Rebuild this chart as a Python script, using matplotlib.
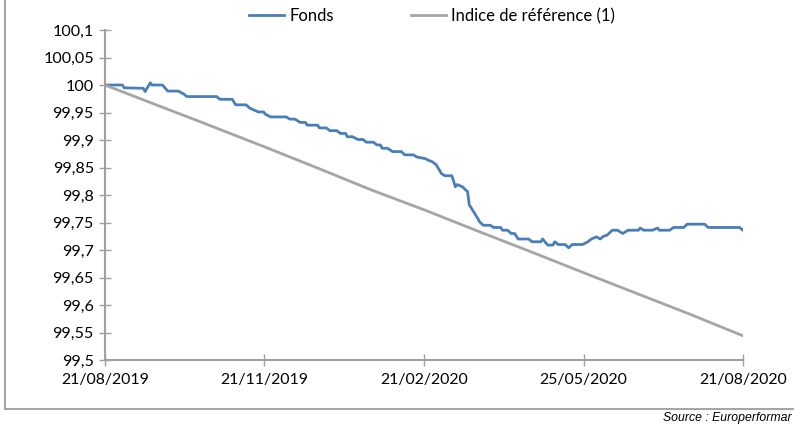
import matplotlib
matplotlib.use('Agg')
import matplotlib.pyplot as plt
import matplotlib.dates as mdates
import numpy as np
import pandas as pd
from matplotlib.lines import Line2D

# data (days since 21/08/2019, value)
start = pd.Timestamp('2019-08-21')

fonds_days = [0, 10, 11, 22, 23, 26, 27, 33, 36, 42, 45, 47, 64, 66, 73, 75, 81, 83,
              88, 91, 92, 95, 104, 106, 109, 112, 115, 116, 122, 123, 127, 129, 133,
              135, 138, 139, 142, 145, 148, 150, 154, 156, 158, 159, 162, 165, 170,
              172, 177, 179, 184, 185, 188, 190, 193, 195, 199, 201, 202, 205, 208,
              209, 212, 215, 217, 221, 223, 227, 228, 231, 233, 235, 237, 243, 245,
              250, 251, 254, 257, 258, 260, 264, 266, 268, 274, 277, 279, 282, 284,
              286, 288, 291, 294, 297, 300, 306, 307, 309, 314, 317, 318, 324, 326,
              332, 334, 344, 346, 364, 366]
fonds = [100.0, 100.0, 99.995, 99.994, 99.988, 100.004, 100.0, 100.0, 99.989, 99.989,
         99.984, 99.979, 99.979, 99.974, 99.974, 99.964, 99.964, 99.958, 99.951, 99.951,
         99.947, 99.942, 99.942, 99.938, 99.938, 99.932, 99.932, 99.927, 99.927, 99.922,
         99.922, 99.917, 99.917, 99.912, 99.912, 99.906, 99.906, 99.901, 99.901, 99.896,
         99.896, 99.891, 99.891, 99.885, 99.885, 99.879, 99.879, 99.873, 99.873, 99.869,
         99.866, 99.864, 99.86, 99.855, 99.839, 99.835, 99.835, 99.815, 99.819, 99.815,
         99.806, 99.782, 99.767, 99.751, 99.745, 99.745, 99.741, 99.741, 99.736, 99.736,
         99.730, 99.730, 99.720, 99.720, 99.715, 99.715, 99.720, 99.709, 99.709, 99.715,
         99.710, 99.710, 99.704, 99.710, 99.710, 99.715, 99.720, 99.724, 99.720, 99.725,
         99.727, 99.736, 99.736, 99.730, 99.736, 99.736, 99.740, 99.736, 99.736, 99.740,
         99.736, 99.736, 99.741, 99.741, 99.747, 99.747, 99.741, 99.741, 99.736]

indice_days = [0, 31, 54, 92, 122, 153, 184, 215, 245, 276, 301, 335, 366]
indice = [100.0, 99.962, 99.934, 99.887, 99.849, 99.809, 99.772, 99.733, 99.696,
          99.657, 99.626, 99.584, 99.544]

tick_labels = ['21/08/2019', '21/11/2019', '21/02/2020', '25/05/2020', '21/08/2020']
y_ticks = np.round(np.arange(99.5, 100.101, 0.05), 2)

blue = '#4A7EBB'
grey = '#A5A5A5'
axis_col = '#A0A0A0'

fig = plt.figure(figsize=(7.94, 4.24), dpi=100)
ax = fig.add_axes([0.1322, 0.1509, 0.8036, 0.7783])

fx = [start + pd.Timedelta(days=d) for d in fonds_days]
ix = [start + pd.Timedelta(days=d) for d in indice_days]
ax.plot(fx, fonds, color=blue, lw=2.0, label='Fonds', solid_joinstyle='round')
ax.plot(ix, indice, color=grey, lw=2.0, label='Indice de référence (1)')

x0 = mdates.date2num(start)
x1 = mdates.date2num(start + pd.Timedelta(days=366))
ax.set_xlim(x0, x1)
ax.set_ylim(99.5, 100.1)

ax.set_xticks(np.linspace(x0, x1, len(tick_labels)))
ax.set_xticklabels(tick_labels)
ax.set_yticks(y_ticks)
ax.set_yticklabels([('%.2f' % v).rstrip('0').rstrip('.').replace('.', ',') for v in y_ticks])

for s in ['top', 'right']:
    ax.spines[s].set_visible(False)
for s in ['left', 'bottom']:
    ax.spines[s].set_color(axis_col)
    ax.spines[s].set_linewidth(1.5)

ax.tick_params(axis='y', direction='inout', length=8, width=1, color=axis_col,
               labelsize=11.6, pad=4, labelcolor='black')
ax.tick_params(axis='x', direction='inout', length=9, width=1, color=axis_col,
               labelsize=11.4, pad=5, labelcolor='black')
for lab in ax.get_xticklabels() + ax.get_yticklabels():
    lab.set_fontfamily('Lato')

fig.legend(loc='center', bbox_to_anchor=(0.544, 0.962), ncol=2, frameon=False,
           prop={'family': 'Lato', 'size': 12}, handlelength=2.1,
           handletextpad=0.3, columnspacing=4.6)

# chart area border (left and bottom visible)
fig.add_artist(Line2D([5 / 794, 5 / 794], [1, 1 - 409 / 424], transform=fig.transFigure,
                      color='#A6A6A6', lw=1.5))
fig.add_artist(Line2D([5 / 794, 1], [1 - 409 / 424, 1 - 409 / 424], transform=fig.transFigure,
                      color='#A6A6A6', lw=1.5))

# source line, as far as it is visible in the original
fig.text(792 / 794, 1 - 418 / 424, 'Source : Europerformar', fontsize=8.8,
         style='italic', family='Liberation Sans', ha='right', va='center')

fig.savefig('out.png', dpi=100)
plt.close(fig)
